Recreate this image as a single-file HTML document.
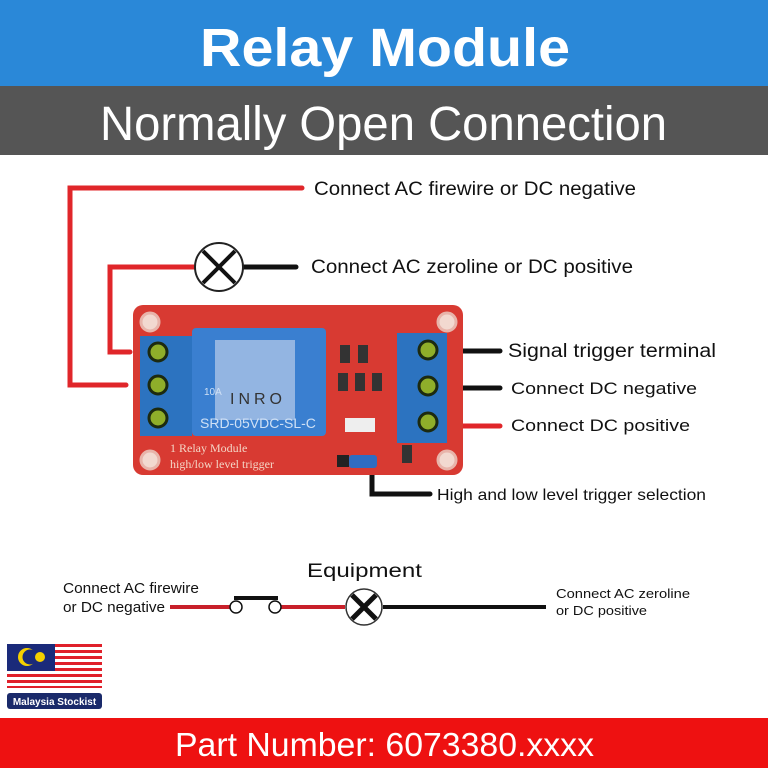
<!DOCTYPE html>
<html><head><meta charset="utf-8"><style>
body{margin:0;width:768px;height:768px;overflow:hidden;background:#fff;font-family:"Liberation Sans",sans-serif}
svg{display:block}
</style></head><body>
<svg width="768" height="768" viewBox="0 0 768 768" xmlns="http://www.w3.org/2000/svg" font-family="Liberation Sans, sans-serif">
<rect x="0" y="0" width="768" height="86" fill="#2a88d8"/>
<text x="200" y="66" font-size="54" font-weight="bold" fill="#fff" textLength="370" lengthAdjust="spacingAndGlyphs">Relay Module</text>
<rect x="0" y="86" width="768" height="69" fill="#555"/>
<text x="100" y="140" font-size="48" fill="#fff" textLength="567" lengthAdjust="spacingAndGlyphs">Normally Open Connection</text>
<rect x="0" y="718" width="768" height="50" fill="#ee1111"/>
<text x="175" y="756" font-size="33" fill="#fff" textLength="419" lengthAdjust="spacingAndGlyphs">Part Number: 6073380.xxxx</text>

<g fill="none" stroke-width="5" stroke-linecap="round">
<polyline points="302,188 70,188 70,385 126,385" stroke="#e0262a"/>
<polyline points="195,267 110,267 110,352 130,352" stroke="#e0262a"/>
<line x1="243" y1="267" x2="296" y2="267" stroke="#111"/>
<line x1="460" y1="351" x2="500" y2="351" stroke="#111"/>
<line x1="460" y1="388" x2="500" y2="388" stroke="#111"/>
<line x1="460" y1="426" x2="500" y2="426" stroke="#e0262a"/>
<polyline points="372,470 372,494 430,494" stroke="#111"/>
</g>
<circle cx="219" cy="267" r="24" fill="#fff" stroke="#222" stroke-width="2"/>
<line x1="203" y1="251" x2="235" y2="283" stroke="#111" stroke-width="4"/>
<line x1="235" y1="251" x2="203" y2="283" stroke="#111" stroke-width="4"/>

<rect x="133" y="305" width="330" height="170" rx="10" fill="#d83a32"/>
<g fill="#f2d9d0" stroke="#e8b4aa" stroke-width="3">
<circle cx="150" cy="322" r="9"/><circle cx="447" cy="322" r="9"/>
<circle cx="150" cy="460" r="9"/><circle cx="447" cy="460" r="9"/>
</g>
<rect x="140" y="336" width="52" height="100" fill="#2c73c0"/>
<rect x="192" y="328" width="134" height="108" rx="4" fill="#3a7fd0"/>
<rect x="215" y="340" width="80" height="80" fill="#aac3e6" opacity="0.8"/>
<text x="258" y="404" text-anchor="middle" font-size="16" fill="#333" letter-spacing="4">INRO</text>
<text x="204" y="395" font-size="10" fill="#cfe0f5">10A</text>
<text x="200" y="428" font-size="14" fill="#cfe0f5">SRD-05VDC-SL-C</text>
<rect x="397" y="333" width="50" height="110" fill="#2c73c0"/>
<g fill="#8fae2a" stroke="#1c2a10" stroke-width="3">
<circle cx="158" cy="352" r="9"/><circle cx="158" cy="385" r="9"/><circle cx="158" cy="418" r="9"/>
<circle cx="428" cy="350" r="9"/><circle cx="428" cy="386" r="9"/><circle cx="428" cy="422" r="9"/>
</g>
<g fill="#333"><rect x="340" y="345" width="10" height="18"/><rect x="358" y="345" width="10" height="18"/><rect x="338" y="373" width="10" height="18"/><rect x="355" y="373" width="10" height="18"/><rect x="372" y="373" width="10" height="18"/><rect x="402" y="445" width="10" height="18"/></g>
<rect x="345" y="418" width="30" height="14" fill="#eee"/>
<rect x="337" y="455" width="12" height="12" fill="#222"/>
<rect x="349" y="455" width="28" height="13" rx="3" fill="#2f6cc2"/>
<text x="170" y="452" font-size="12" font-family="Liberation Serif, serif" fill="#f4d6c6">1 Relay  Module</text>
<text x="170" y="468" font-size="12" font-family="Liberation Serif, serif" fill="#f4d6c6">high/low level trigger</text>

<g font-size="19" fill="#111" lengthAdjust="spacingAndGlyphs">
<text x="314" y="195" textLength="322" lengthAdjust="spacingAndGlyphs">Connect AC firewire or DC negative</text>
<text x="311" y="273" textLength="322" lengthAdjust="spacingAndGlyphs">Connect AC zeroline or DC positive</text>
<text x="508" y="357" textLength="208" lengthAdjust="spacingAndGlyphs">Signal trigger terminal</text>
<text x="511" y="394" font-size="17" textLength="186" lengthAdjust="spacingAndGlyphs">Connect DC negative</text>
<text x="511" y="431" font-size="17" textLength="179" lengthAdjust="spacingAndGlyphs">Connect DC positive</text>
<text x="437" y="500" font-size="16" textLength="269" lengthAdjust="spacingAndGlyphs">High and low level trigger selection</text>
</g>

<text x="307" y="577" font-size="19" fill="#111" textLength="115" lengthAdjust="spacingAndGlyphs">Equipment</text>
<text x="63" y="593" font-size="15" fill="#111" textLength="136" lengthAdjust="spacingAndGlyphs">Connect AC firewire</text>
<text x="63" y="612" font-size="15" fill="#111" textLength="102" lengthAdjust="spacingAndGlyphs">or DC negative</text>
<text x="556" y="598" font-size="13" fill="#111" textLength="134" lengthAdjust="spacingAndGlyphs">Connect AC zeroline</text>
<text x="556" y="615" font-size="13" fill="#111" textLength="91" lengthAdjust="spacingAndGlyphs">or DC positive</text>
<line x1="170" y1="607" x2="230" y2="607" stroke="#c8202a" stroke-width="4"/>
<line x1="280" y1="607" x2="345" y2="607" stroke="#c8202a" stroke-width="4"/>
<line x1="383" y1="607" x2="546" y2="607" stroke="#111" stroke-width="4"/>
<line x1="234" y1="598" x2="278" y2="598" stroke="#111" stroke-width="4"/>
<circle cx="236" cy="607" r="6" fill="#fff" stroke="#111" stroke-width="1.5"/>
<circle cx="275" cy="607" r="6" fill="#fff" stroke="#111" stroke-width="1.5"/>
<circle cx="364" cy="607" r="18" fill="#fff" stroke="#333" stroke-width="1.5"/>
<line x1="352" y1="595" x2="376" y2="619" stroke="#111" stroke-width="5"/>
<line x1="376" y1="595" x2="352" y2="619" stroke="#111" stroke-width="5"/>

<g>
<rect x="7" y="644" width="95" height="44" fill="#fff"/>
<g fill="#e0202a">
<rect x="7" y="644" width="95" height="3"/><rect x="7" y="650" width="95" height="3"/><rect x="7" y="656" width="95" height="3"/><rect x="7" y="662" width="95" height="3"/><rect x="7" y="668" width="95" height="3"/><rect x="7" y="674" width="95" height="3"/><rect x="7" y="680" width="95" height="3"/><rect x="7" y="686" width="95" height="2"/>
</g>
<rect x="7" y="644" width="48" height="27" fill="#1a2a7a"/>
<circle cx="27" cy="657" r="9" fill="#f5d000"/><circle cx="30" cy="657" r="7.5" fill="#1a2a7a"/>
<circle cx="40" cy="657" r="5" fill="#f5d000"/>
<rect x="7" y="693" width="95" height="16" rx="3" fill="#1a2a6a"/>
<text x="54.5" y="705" text-anchor="middle" font-size="10" font-weight="bold" fill="#fff">Malaysia Stockist</text>
</g>
</svg>
</body></html>
